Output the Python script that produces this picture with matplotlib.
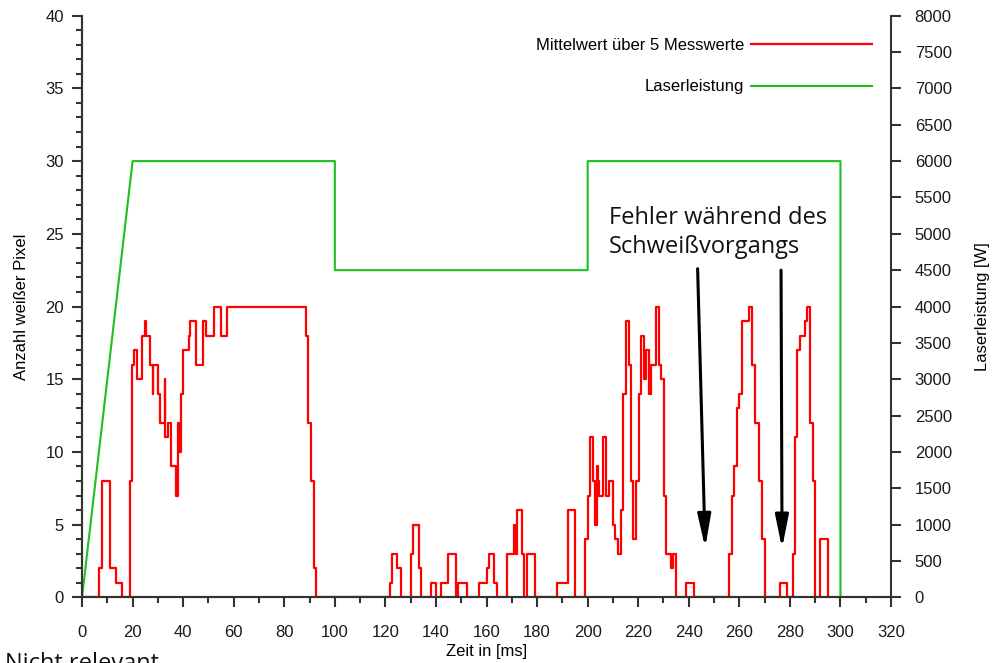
import matplotlib.pyplot as plt
from matplotlib.ticker import MultipleLocator

plt.rcParams['font.family'] = ['Liberation Sans', 'DejaVu Sans']

# Mittelwert ueber 5 Messwerte: Stufenwerte (Beginn der Stufe in ms, Wert)
red_t = [0, 6.6, 7.7, 10.9, 13.5, 15.8, 18.9, 19.8, 20.6, 21.9, 23.9, 24.8, 25.2,
         26.8, 27.9, 28.2, 29.9, 30.8, 32.7, 33.0, 33.9, 35.1, 37.1, 37.9, 38.9,
         39.2, 40.1, 42.2, 42.9, 45.0, 48.0, 49.2, 52.1, 55.0, 57.5, 88.6, 89.4,
         90.5, 91.7, 92.6,
         121.7, 122.8, 124.4, 126.0, 130.0, 131.0, 133.1, 134.0, 137.9, 140.0,
         141.9, 144.9, 147.9, 148.8, 152.2, 157.0, 160.1, 160.9, 163.0, 164.1,
         168.0, 171.0, 171.3, 172.2, 174.2, 175.0, 176.0, 179.2, 188.0, 192.1,
         195.1, 199.1, 200.0, 201.1, 202.0, 202.9, 203.7, 204.0, 204.6, 206.0,
         207.2, 208.5, 210.1, 211.0, 212.1, 213.2, 214.0, 215.1, 216.3, 217.2,
         218.0, 219.3, 220.3, 221.2, 222.3, 223.0, 224.2, 225.2, 227.0, 228.3,
         229.1, 230.2, 230.9, 232.8, 233.8, 234.9, 238.8, 241.9, 255.9, 257.0,
         257.9, 258.9, 259.7, 260.9, 263.8, 265.2, 266.2, 267.9, 269.0, 270.1,
         275.9, 278.9, 281.1, 282.1, 283.0, 284.1, 286.1, 286.9, 288.1, 289.0,
         290.1, 292.1, 295.0, 296.0]
red_v = [0, 2, 8, 2, 1, 0, 8, 16, 17, 15, 18, 19, 18,
         16, 14, 16, 14, 12, 15, 11, 12, 9, 7, 12, 10,
         14, 17, 18, 19, 16, 19, 18, 20, 18, 20, 18, 12,
         8, 2, 0,
         1, 3, 2, 0, 3, 5, 2, 0, 1, 0,
         1, 3, 0, 1, 0, 1, 2, 3, 1, 0,
         3, 5, 3, 6, 3, 0, 3, 0, 1, 6,
         0, 4, 7, 11, 8, 5, 9, 8, 7, 11,
         7, 8, 5, 4, 3, 6, 14, 19, 16, 8,
         4, 8, 14, 18, 15, 17, 14, 16, 20, 16,
         15, 7, 3, 2, 3, 0, 1, 0, 3, 7,
         9, 13, 14, 19, 20, 16, 12, 8, 4, 0,
         1, 0, 3, 11, 17, 18, 19, 20, 12, 8,
         0, 4, 0, 0]

# Laserleistung in W
laser_t = [0, 20, 100, 100, 200, 200, 300, 300]
laser_p = [0, 6000, 6000, 4500, 4500, 6000, 6000, 0]

# Pfeile auf die Fehlerstellen: (Start, Ziel) in Datenkoordinaten
arrow_from = [(243.5, 22.6), (276.5, 22.5)]
arrow_to = [(246.5, 3.4), (276.9, 3.35)]

red = '#ff0000'
green = '#1fbf1f'
axcol = '#333333'
fs = 12

fig = plt.figure(figsize=(9.92, 6.63), dpi=100)
ax = fig.add_axes([0.0827, 0.0991, 0.8155, 0.8772])
ax2 = ax.twinx()

l1, = ax.step(red_t, red_v, where='post', color=red, lw=1.6, zorder=3,
              label='Mittelwert über 5 Messwerte')
l2, = ax2.plot(laser_t, laser_p, color=green, lw=1.5, label='Laserleistung')

ax.set_xlim(0, 320)
ax.set_ylim(0, 40)
ax2.set_ylim(0, 8000)

ax.xaxis.set_major_locator(MultipleLocator(20))
ax.xaxis.set_minor_locator(MultipleLocator(10))
ax.yaxis.set_major_locator(MultipleLocator(5))
ax.yaxis.set_minor_locator(MultipleLocator(1))
ax2.yaxis.set_major_locator(MultipleLocator(500))

for a in (ax, ax2):
    a.spines['top'].set_visible(False)
    for s in ('left', 'right', 'bottom'):
        a.spines[s].set_color(axcol)
        a.spines[s].set_linewidth(1.5)
    a.tick_params(which='major', direction='out', length=7, width=1.5,
                  color=axcol, labelsize=fs, labelcolor='#1a1a1a')
    a.tick_params(which='minor', direction='out', length=4, width=1.5, color=axcol)
ax.spines['right'].set_visible(False)
ax.tick_params(axis='x', which='major', pad=13)
ax.tick_params(axis='y', which='major', pad=6)
ax2.tick_params(axis='y', which='major', pad=10)

ax.set_xlabel('Zeit in [ms]', fontsize=fs, labelpad=3)
ax.set_ylabel('Anzahl weißer Pixel', fontsize=fs, labelpad=12)
ax2.set_ylabel('Laserleistung [W]', fontsize=fs, labelpad=17)

ax2.legend([l1, l2], [l1.get_label(), l2.get_label()], loc='upper right',
           bbox_to_anchor=(0.977, 0.962), frameon=False, markerfirst=False,
           fontsize=fs, handlelength=7.3, handletextpad=0.4, labelspacing=1.6,
           borderpad=0, borderaxespad=0)

ax2.text(208.5, 5380, 'Fehler während des\nSchweißvorgangs', family='Open Sans',
         fontsize=17, va='top', ha='left', linespacing=1.25, color='#111111')
for p0, p1 in zip(arrow_from, arrow_to):
    ax.annotate('', xy=p1, xytext=p0,
                arrowprops=dict(arrowstyle='-|>,head_length=1.0,head_width=0.2',
                                lw=2.2, color='k', mutation_scale=20,
                                shrinkA=0, shrinkB=0), zorder=5)

fig.text(0.005, 0.016, 'Nicht relevant', family='Open Sans', fontsize=17,
         va='top', ha='left', color='#111111')

fig.savefig('out.png', dpi=100)
